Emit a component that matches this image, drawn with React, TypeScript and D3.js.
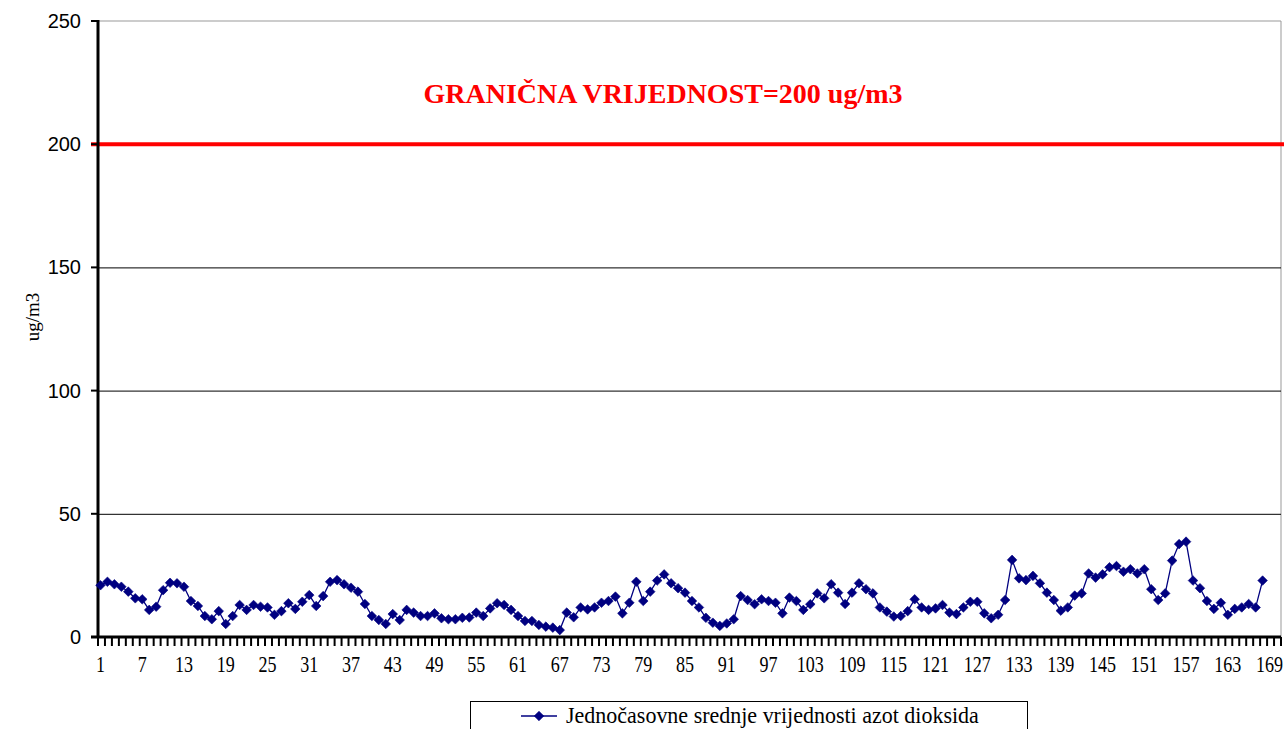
import React from "react";
import * as d3 from "d3";

const values: number[] = [
  21, 22.4, 21.4, 20.4, 18.4, 15.7, 15.3, 11, 12.3, 19,
  22, 21.8, 20.4, 14.6, 12.6, 8.5, 7.2, 10.5, 5.3, 8.5,
  13, 11, 13, 12.3, 12, 9, 10.5, 13.7, 11.4, 14.3,
  17, 12.6, 16.6, 22.4, 23.1, 21.4, 20, 18.4, 13.4, 8.5,
  6.9, 5.3, 9.3, 6.9, 11, 9.9, 8.5, 8.5, 9.6, 7.6,
  7.2, 7.2, 7.8, 7.9, 9.9, 8.5, 11.6, 13.7, 13, 11,
  8.5, 6.5, 6.5, 4.9, 4.2, 3.8, 2.8, 9.9, 8, 12,
  11.2, 12, 13.9, 14.6, 16.4, 9.6, 13.9, 22.4, 14.6, 18.4,
  22.9, 25.4, 21.8, 19.8, 18, 14.6, 12, 7.8, 5.8, 4.5,
  5.5, 7.2, 16.6, 15, 13.3, 15.3, 14.6, 13.9, 9.6, 16,
  14.6, 11, 13.3, 17.7, 15.7, 21.4, 18, 13.4, 18, 21.8,
  19.4, 17.7, 12, 10.3, 8.3, 8.5, 10.5, 15.3, 12, 11,
  11.6, 13, 9.9, 9.3, 12, 14.3, 14.3, 9.6, 7.6, 9,
  15, 31.3, 23.8, 23.1, 24.8, 21.8, 18, 15, 10.7, 12,
  16.8, 17.7, 25.8, 24.1, 25.4, 28.3, 28.8, 26.5, 27.5, 25.8,
  27.5, 19.4, 15, 17.7, 31, 37.7, 38.7, 22.9, 19.8, 14.6,
  11.4, 13.9, 9, 11.4, 12, 13.4, 12, 22.9,
];

const categoryCount = 170;
const categories: number[] = d3.range(1, categoryCount + 1);
const xTickLabels: number[] = d3.range(1, 170, 6);
const yTicks: number[] = [0, 50, 100, 150, 200, 250];
const limitValue = 200;
const limitLabel = "GRANIČNA VRIJEDNOST=200 ug/m3";
const seriesName = "Jednočasovne srednje vrijednosti azot dioksida";
const yTitle = "ug/m3";

const W = 1284;
const H = 729;
const left = 98;
const right = 1281;
const top = 21;
const bottom = 637;

const x = d3.scaleBand<number>().domain(categories).range([left - 1, right - 1]).padding(0);
const cx = (c: number) => (x(c) as number) + x.bandwidth() / 2;
const y = d3.scaleLinear().domain([0, 250]).range([bottom, top]);

const navy = "#000080";
const serif = "'Liberation Serif', 'Times New Roman', serif";

function Diamond({ px, py, r }: { px: number; py: number; r: number }) {
  return (
    <path
      d={`M${px},${py - r}L${px + r},${py}L${px},${py + r}L${px - r},${py}Z`}
      fill={navy}
      stroke={navy}
      strokeWidth={0.6}
    />
  );
}

export default function App() {
  const line = d3
    .line<number>()
    .x((_, i) => cx(i + 1))
    .y((d) => y(d));

  const boundaries = d3
    .range(0, categoryCount + 1)
    .map((i) => left + i * x.bandwidth())
    .filter((b) => b <= right);

  return (
    <svg
      width={W}
      height={H}
      style={{ position: "absolute", left: 0, top: 0, background: "#fff" }}
    >
      {/* top border */}
      <line x1={left} x2={right} y1={y(250)} y2={y(250)} stroke="#999" strokeWidth={1} />
      {/* right border */}
      <line x1={right} x2={right} y1={top} y2={bottom} stroke="#999" strokeWidth={1} />
      {/* gridlines */}
      {yTicks
        .filter((t) => t > 0 && t < 250)
        .map((t) => (
          <line key={t} x1={left} x2={right} y1={y(t) + 0.5} y2={y(t) + 0.5} stroke="#000" strokeWidth={1} />
        ))}
      {/* limit line */}
      <line x1={91} x2={W} y1={y(limitValue)} y2={y(limitValue)} stroke="#ff0000" strokeWidth={4} />
      <text
        x={663}
        y={103}
        textAnchor="middle"
        fill="#ff0000"
        fontFamily={serif}
        fontWeight="bold"
        fontSize={28}
      >
        {limitLabel}
      </text>

      {/* y ticks & labels */}
      {yTicks.map((t) => (
        <g key={t}>
          <line x1={91} x2={left} y1={y(t)} y2={y(t)} stroke="#000" strokeWidth={2} />
          <text
            x={81}
            y={y(t) + 7}
            textAnchor="end"
            fontFamily="'Liberation Sans', Arial, sans-serif"
            fontSize={20}
            fill="#000"
          >
            {t}
          </text>
        </g>
      ))}
      {/* y axis title */}
      <text
        transform={`translate(39,317) rotate(-90)`}
        textAnchor="middle"
        fontFamily={serif}
        fontSize={19}
        fill="#000"
      >
        {yTitle}
      </text>

      {/* x tick comb */}
      {boundaries.map((bx, i) => (
        <line key={i} x1={bx} x2={bx} y1={bottom} y2={bottom + 9} stroke="#000" strokeWidth={2} />
      ))}
      {/* x labels */}
      {xTickLabels.map((c) => (
        <text
          key={c}
          transform={`translate(${cx(c)},672) scale(0.86,1.1)`}
          textAnchor="middle"
          fontFamily={serif}
          fontSize={21}
          fill="#000"
        >
          {c}
        </text>
      ))}

      {/* axes */}
      <line x1={left} x2={left} y1={top - 1} y2={bottom + 1} stroke="#000" strokeWidth={3} />
      <line x1={91} x2={right} y1={bottom} y2={bottom} stroke="#000" strokeWidth={3} />

      {/* series */}
      <path d={line(values) || ""} fill="none" stroke={navy} strokeWidth={1.3} />
      {values.map((v, i) => (
        <Diamond key={i} px={cx(i + 1)} py={y(v)} r={4.8} />
      ))}

      {/* legend */}
      <rect x={470.5} y={701.5} width={557} height={40} fill="#fff" stroke="#000" strokeWidth={1} />
      <line x1={521} x2={557} y1={716} y2={716} stroke={navy} strokeWidth={1.3} />
      <Diamond px={539} py={716} r={4.8} />
      <text
        transform={`translate(566,723) scale(1,1.05)`}
        fontFamily={serif}
        fontSize={22}
        fill="#000"
      >
        {seriesName}
      </text>
    </svg>
  );
}
